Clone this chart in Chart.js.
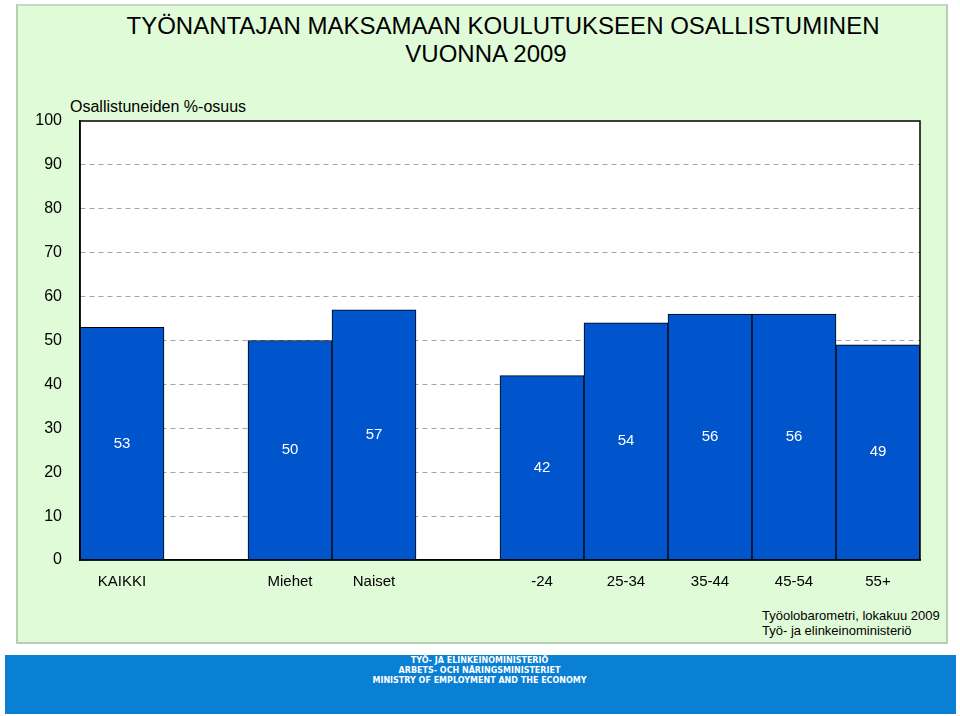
<!DOCTYPE html>
<html>
<head>
<meta charset="utf-8">
<script src="https://cdn.jsdelivr.net/npm/chart.js@4/dist/chart.umd.min.js"></script>
<style>
  body { margin: 0; width: 960px; height: 716px; background: #fff; position: relative; overflow: hidden;
         font-family: "Liberation Sans", Arial, sans-serif; }
  #panel { position: absolute; left: 16px; top: 4px; width: 928px; height: 636px;
           background: #e0fbd8; border: 2px solid #b9cdb4; border-top-color: #c8d6c4; }
  .title { position: absolute; font-size: 24px; color: #000; white-space: nowrap; transform: translateX(-50%); }
  #ytitle { position: absolute; left: 70px; top: 98px; font-size: 16px; }
  #source { position: absolute; left: 762px; top: 608px; font-size: 13px; line-height: 15px; }
  #footer { position: absolute; left: 5px; top: 655px; width: 951px; height: 59px; background: #0a80d4;
            color: #fff; font-family: "DejaVu Sans", sans-serif; font-weight: bold; font-size: 8px;
            line-height: 10px; text-align: center; padding-top: 1px; box-sizing: border-box; }
  #footer div { transform: translateX(-1px); }
  canvas { position: absolute; left: 0; top: 0; }
</style>
</head>
<body>
<div id="panel"></div>
<div class="title" style="left:503px; top:12px;">TYÖNANTAJAN MAKSAMAAN KOULUTUKSEEN OSALLISTUMINEN</div>
<div class="title" style="left:486px; top:40px;">VUONNA 2009</div>
<div id="ytitle">Osallistuneiden %-osuus</div>
<div id="source">Työolobarometri, lokakuu 2009<br>Työ- ja elinkeinoministeriö</div>
<div id="footer">
  <div>TYÖ- JA ELINKEINOMINISTERIÖ</div>
  <div>ARBETS- OCH NÄRINGSMINISTERIET</div>
  <div>MINISTRY OF EMPLOYMENT AND THE ECONOMY</div>
</div>
<canvas id="chart" width="960" height="716"></canvas>
<script>
// Categories (empty strings are the gaps between groups)
const categories = ['KAIKKI', '', 'Miehet', 'Naiset', '', '-24', '25-34', '35-44', '45-54', '55+'];
// Participation share, %
const values = [53, null, 50, 57, null, 42, 54, 56, 56, 49];
const yTicks = [0, 10, 20, 30, 40, 50, 60, 70, 80, 90, 100];

const font = "'Liberation Sans', Arial, sans-serif";

// White plot background + black frame
const frame = {
    id: 'frame',
    beforeDraw(chart) {
        const a = chart.chartArea, ctx = chart.ctx;
        ctx.save();
        ctx.fillStyle = '#fff';
        ctx.fillRect(a.left, a.top, a.right - a.left, a.bottom - a.top);
        ctx.restore();
    },
    afterDatasetsDraw(chart) {
        const a = chart.chartArea, ctx = chart.ctx;
        ctx.save();
        ctx.strokeStyle = '#000';
        ctx.lineWidth = 1.5;
        ctx.setLineDash([]);
        ctx.strokeRect(a.left, a.top, a.right - a.left, a.bottom - a.top);
        ctx.restore();
    }
};

// Value labels in bar centres
const valueLabels = {
    id: 'valueLabels',
    afterDatasetsDraw(chart) {
        const ctx = chart.ctx;
        const meta = chart.getDatasetMeta(0);
        ctx.save();
        ctx.fillStyle = '#fff';
        ctx.font = '15px ' + font;
        ctx.textAlign = 'center';
        ctx.textBaseline = 'middle';
        meta.data.forEach((bar, i) => {
            if (values[i] == null) return;
            ctx.fillText(values[i], bar.x, (bar.y + bar.base) / 2);
        });
        ctx.restore();
    }
};

new Chart(document.getElementById('chart'), {
    type: 'bar',
    data: {
        labels: categories,
        datasets: [{
            data: values,
            backgroundColor: '#0055cc',
            borderColor: '#000',
            borderWidth: 1,
            barPercentage: 1,
            categoryPercentage: 1
        }]
    },
    options: {
        responsive: false,
        animation: false,
        layout: { padding: { left: 0, right: 40, top: 121, bottom: 0 } },
        plugins: { legend: { display: false }, tooltip: { enabled: false } },
        scales: {
            x: {
                grid: { display: false, drawTicks: false },
                border: { color: '#000', width: 1.5 },
                ticks: { color: '#000', font: { family: font, size: 15 }, padding: 13, maxRotation: 0, autoSkip: false },
                afterFit: s => { s.height = 156; }
            },
            y: {
                min: 0,
                max: 100,
                afterBuildTicks: s => { s.ticks = yTicks.map(v => ({ value: v })); },
                grid: {
                    drawTicks: false,
                    color: c => (c.tick.value === 0 || c.tick.value === 100) ? 'rgba(0,0,0,0)' : '#a4a4a4',
                    lineWidth: 1
                },
                border: { color: '#000', width: 1.5, dash: [5, 4] },
                ticks: { color: '#000', font: { family: font, size: 16 }, padding: 18 },
                afterFit: s => { s.width = 80; }
            }
        }
    },
    plugins: [frame, valueLabels]
});
</script>
</body>
</html>
